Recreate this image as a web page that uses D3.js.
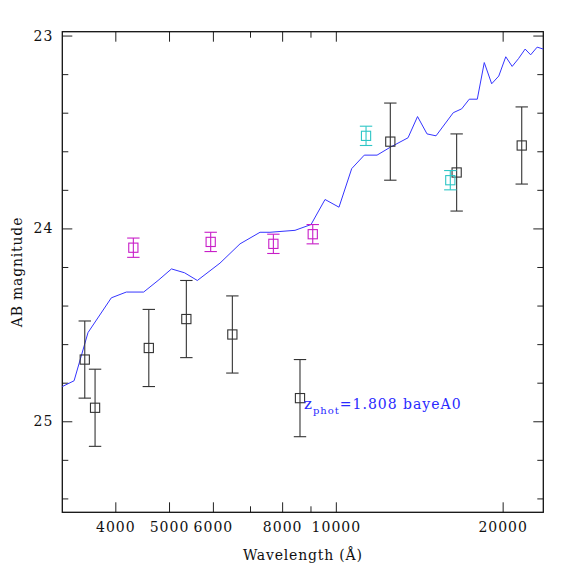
<!DOCTYPE html>
<html lang="en">
<head>
  <meta charset="UTF-8">
  <title>SED fit</title>
  <script src="https://d3js.org/d3.v7.min.js"></script>
  <style>
    html, body { margin: 0; padding: 0; background: #fff; }
    svg text { font-family: "DejaVu Serif", serif; }
  </style>
</head>
<body>
  <svg id="chart" width="574" height="574"></svg>

  <script>
    // model spectrum (wavelength in Angstrom, AB mag)
    const modelWave = [3209, 3370, 3571, 3934, 4187, 4500, 4777, 5051, 5333, 5624,
      6179, 6716, 7298, 7606, 8439, 9020, 9561, 10132, 10681, 11254,
      11868, 12522, 13499, 14042, 14607, 15163, 16290, 16870, 17410, 17999,
      18530, 19108, 19680, 20261, 20806, 21357, 21959, 22467, 23083, 23676];
    const modelMag = [24.82, 24.79, 24.54, 24.36, 24.33, 24.33, 24.27, 24.21, 24.23, 24.27,
      24.18, 24.08, 24.02, 24.02, 24.01, 23.98, 23.85, 23.89, 23.69, 23.62,
      23.62, 23.58, 23.53, 23.42, 23.51, 23.52, 23.40, 23.38, 23.33, 23.33,
      23.14, 23.25, 23.21, 23.11, 23.16, 23.12, 23.07, 23.10, 23.06, 23.07];

    // photometry, one set per colour
    const blackWave = [3523, 3677, 4597, 5373, 6505, 8616, 12540, 16520, 21650];
    const blackMag = [24.68, 24.93, 24.62, 24.47, 24.55, 24.88, 23.55, 23.71, 23.57];
    const blackErr = [0.2, 0.2, 0.2, 0.2, 0.2, 0.2, 0.2, 0.2, 0.2];

    const magentaWave = [4311, 5945, 7714, 9085];
    const magentaMag = [24.10, 24.07, 24.08, 24.03];
    const magentaErr = [0.05, 0.05, 0.05, 0.05];

    const cyanWave = [11337, 16090];
    const cyanMag = [23.52, 23.75];
    const cyanErr = [0.05, 0.05];

    const xMajor = [4000, 5000, 6000, 8000, 10000, 20000];
    const xMinor = [7000, 9000];
    const yMajor = [23, 24, 25];
    const yMinor = [23.2, 23.4, 23.6, 23.8, 24.2, 24.4, 24.6, 24.8, 25.2, 25.4];

    const frameL = 62.3, frameR = 543.3, frameT = 31.7, frameB = 512.3;

    const svg = d3.select("#chart");

    const x = d3.scaleLog().domain([3209, 23680]).range([frameL, frameR]);
    const y = d3.scaleLinear().domain([22.98, 25.472]).range([frameT, frameB]);

    function styleAxis(g) {
      g.select(".domain").remove();
      g.selectAll("line").attr("stroke", "#222").attr("stroke-width", 1);
      g.selectAll("text")
        .attr("fill", "#111")
        .style("font-family", "'DejaVu Serif', serif")
        .style("font-size", "14px")
        .style("letter-spacing", "1px");
    }

    // bottom / top
    svg.append("g").attr("transform", `translate(0,${frameB})`)
      .call(d3.axisBottom(x).tickValues(xMajor).tickSize(-10).tickPadding(10).tickFormat(d3.format("d")))
      .call(styleAxis);
    svg.append("g").attr("transform", `translate(0,${frameB})`)
      .call(d3.axisBottom(x).tickValues(xMinor).tickSize(-6).tickFormat(""))
      .call(styleAxis);
    svg.append("g").attr("transform", `translate(0,${frameT})`)
      .call(d3.axisTop(x).tickValues(xMajor).tickSize(-10).tickFormat(""))
      .call(styleAxis);
    svg.append("g").attr("transform", `translate(0,${frameT})`)
      .call(d3.axisTop(x).tickValues(xMinor).tickSize(-6).tickFormat(""))
      .call(styleAxis);

    // left / right
    svg.append("g").attr("transform", `translate(${frameL},0)`)
      .call(d3.axisLeft(y).tickValues(yMajor).tickSize(-10).tickPadding(9).tickFormat(d3.format("d")))
      .call(styleAxis);
    svg.append("g").attr("transform", `translate(${frameL},0)`)
      .call(d3.axisLeft(y).tickValues(yMinor).tickSize(-6).tickFormat(""))
      .call(styleAxis);
    svg.append("g").attr("transform", `translate(${frameR},0)`)
      .call(d3.axisRight(y).tickValues(yMajor).tickSize(-10).tickFormat(""))
      .call(styleAxis);
    svg.append("g").attr("transform", `translate(${frameR},0)`)
      .call(d3.axisRight(y).tickValues(yMinor).tickSize(-6).tickFormat(""))
      .call(styleAxis);

    // frame
    svg.append("rect")
      .attr("x", frameL).attr("y", frameT)
      .attr("width", frameR - frameL).attr("height", frameB - frameT)
      .attr("fill", "none").attr("stroke", "#111").attr("stroke-width", 1.3);

    // model line
    const model = modelWave.map((w, i) => [w, modelMag[i]]);
    svg.append("path")
      .datum(model)
      .attr("fill", "none")
      .attr("stroke", "#3535ff")
      .attr("stroke-width", 1)
      .attr("d", d3.line().x(d => x(d[0])).y(d => y(d[1])));

    // photometry points with error bars
    function drawPoints(waves, mags, errs, color) {
      const g = svg.append("g").attr("stroke", color).attr("fill", "none").attr("stroke-width", 1.1);
      const cap = 6.2, half = 4.6;
      waves.forEach((w, i) => {
        const cx = x(w), cy = y(mags[i]);
        const y0 = y(mags[i] - errs[i]), y1 = y(mags[i] + errs[i]);
        g.append("line").attr("x1", cx).attr("x2", cx).attr("y1", y0).attr("y2", y1);
        g.append("line").attr("x1", cx - cap).attr("x2", cx + cap).attr("y1", y0).attr("y2", y0);
        g.append("line").attr("x1", cx - cap).attr("x2", cx + cap).attr("y1", y1).attr("y2", y1);
        g.append("rect").attr("x", cx - half).attr("y", cy - half)
          .attr("width", half * 2).attr("height", half * 2);
      });
    }
    drawPoints(blackWave, blackMag, blackErr, "#333");
    drawPoints(magentaWave, magentaMag, magentaErr, "#c81ec8");
    drawPoints(cyanWave, cyanMag, cyanErr, "#2ec6c6");

    // axis titles
    svg.append("text")
      .attr("x", (frameL + frameR) / 2).attr("y", 560)
      .attr("text-anchor", "middle")
      .style("font-size", "14px").style("letter-spacing", "0.8px")
      .attr("fill", "#111")
      .text("Wavelength (Å)");

    svg.append("text")
      .attr("transform", `translate(22,${(frameT + frameB) / 2}) rotate(-90)`)
      .attr("text-anchor", "middle")
      .style("font-size", "14px").style("letter-spacing", "0.8px")
      .attr("fill", "#111")
      .text("AB magnitude");

    // fit annotation
    const note = svg.append("text")
      .attr("x", 304).attr("y", 409)
      .attr("fill", "#2a2aff")
      .style("font-size", "14px").style("letter-spacing", "1px");
    note.append("tspan").style("font-size", "15px").text("z");
    note.append("tspan").attr("dy", 5).style("font-size", "10px").text("phot");
    note.append("tspan").attr("dy", -5).text("=1.808 bayeA0");
  </script>
</body>
</html>
